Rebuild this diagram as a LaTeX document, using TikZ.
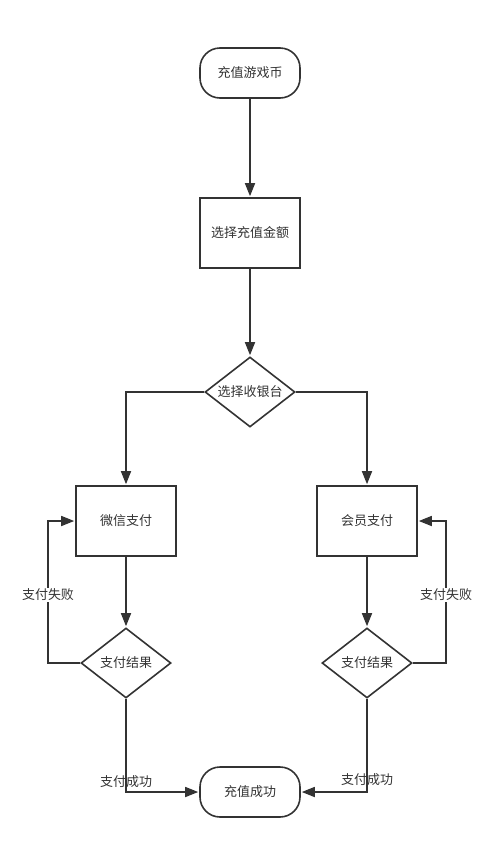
\documentclass[tikz,border=0pt]{standalone}
\usepackage{fontspec}
\newfontfamily\cjk{Noto Sans CJK SC}
\usepackage{tikz}
\usetikzlibrary{positioning,arrows.meta,shapes.geometric}
\usepackage{xcolor}
\definecolor{linegray}{HTML}{333333}

\tikzset{
  base/.style={draw=linegray, line width=1.6pt, font=\cjk\fontsize{13}{15}\selectfont, text=linegray},
  terminal/.style={base, rectangle, rounded corners=20pt, minimum width=100pt, minimum height=50pt},
  process/.style={base, rectangle, minimum width=100pt, minimum height=70pt},
  decision/.style={base, diamond, aspect=1.3, inner sep=0pt, minimum width=90pt, minimum height=70pt},
  flow/.style={draw=linegray, line width=1.6pt, -{Triangle[length=13pt,width=10pt]}, shorten >=1pt},
  lbl/.style={font=\cjk\fontsize{13}{15}\selectfont, text=linegray, fill=white, inner sep=1pt}
}

\begin{document}
\begin{tikzpicture}[x=1pt, y=-1pt]
\useasboundingbox (0,0) rectangle (478,849);

% 开始
\node[terminal] (start) at (250,73) {充值游戏币};
\node[process] (amount) at (250,233) {选择充值金额};
\node[decision] (cashier) at (250,392) {选择收银台};

% 左：微信
\node[process] (wechat) at (126,521) {微信支付};
\node[decision] (resL) at (126,663) {支付结果};

% 右：会员
\node[process] (member) at (367,521) {会员支付};
\node[decision] (resR) at (367,663) {支付结果};

% 结束
\node[terminal] (done) at (250,792) {充值成功};

% 主流程
\draw[flow] (start) -- (amount);
\draw[flow] (amount) -- (cashier);
\draw[flow] (cashier.west) -| (wechat.north);
\draw[flow] (cashier.east) -| (member.north);
\draw[flow] (wechat) -- (resL);
\draw[flow] (member) -- (resR);

% 支付失败
\coordinate (failL) at (48,663);
\coordinate (failR) at (446,663);
\draw[flow] (resL.west) -- (failL) |- node[lbl, pos=0.24] {支付失败} (wechat.west);
\draw[flow] (resR.east) -- (failR) |- node[lbl, pos=0.24] {支付失败} (member.east);

% 支付成功
\draw[flow] (resL.south) |- (done.west);
\draw[flow] (resR.south) |- (done.east);
\node[lbl, fill=none] (okL) at (126,782) {支付成功};
\node[lbl, fill=none] (okR) at (367,780) {支付成功};
\end{tikzpicture}
\end{document}
